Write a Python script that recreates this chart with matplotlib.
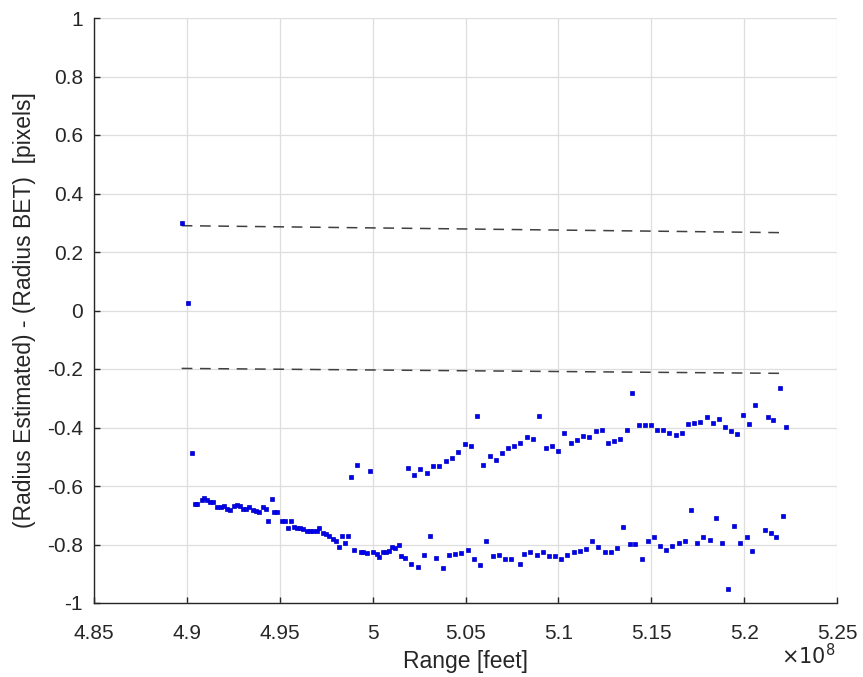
import matplotlib
matplotlib.use("Agg")
import matplotlib.pyplot as plt

plt.rcParams['font.family'] = ['Liberation Sans', 'DejaVu Sans']

# range in units of 1e8 feet, error in pixels
range_start = [4.8972, 4.9008, 4.9026]
err_start = [0.299, 0.026, -0.488]

range_lower = [4.9044, 4.9056, 4.9080, 4.9094, 4.9110, 4.9124, 4.9142, 4.9164, 4.9182, 4.9200,
               4.9214, 4.9232, 4.9254, 4.9268, 4.9286, 4.9300, 4.9318, 4.9336, 4.9354, 4.9372,
               4.9390, 4.9408, 4.9426, 4.9438, 4.9456, 4.9470, 4.9487, 4.9510, 4.9528, 4.9543,
               4.9560, 4.9576, 4.9594, 4.9609, 4.9626, 4.9645, 4.9663, 4.9680, 4.9699, 4.9713,
               4.9731, 4.9749, 4.9766, 4.9785, 4.9801, 4.9817, 4.9833, 4.9851, 4.9869, 4.9901,
               4.9935, 4.9949, 4.9971, 5.0003, 5.0022, 5.0036, 5.0054, 5.0072, 5.0089, 5.0105,
               5.0120, 5.0142, 5.0152, 5.0174, 5.0206, 5.0242, 5.0274, 5.0308, 5.0342, 5.0377,
               5.0409, 5.0443, 5.0477, 5.0511, 5.0545, 5.0579, 5.0611, 5.0646, 5.0680, 5.0712,
               5.0746, 5.0793, 5.0814, 5.0847, 5.0883, 5.0915, 5.0949, 5.0981, 5.1015, 5.1049,
               5.1082, 5.1116, 5.1150, 5.1182, 5.1216, 5.1249, 5.1283, 5.1316, 5.1349, 5.1383,
               5.1415, 5.1449, 5.1483, 5.1516, 5.1546, 5.1580, 5.1612, 5.1647, 5.1681, 5.1713,
               5.1747, 5.1779, 5.1814, 5.1846, 5.1880, 5.1912, 5.1946, 5.1978, 5.2013, 5.2045,
               5.2110, 5.2142, 5.2174, 5.2208]
err_lower = [-0.662, -0.662, -0.647, -0.642, -0.648, -0.654, -0.656, -0.671, -0.673, -0.670,
             -0.677, -0.683, -0.668, -0.665, -0.668, -0.677, -0.679, -0.673, -0.683, -0.687,
             -0.690, -0.673, -0.679, -0.719, -0.643, -0.688, -0.688, -0.719, -0.719, -0.745,
             -0.721, -0.740, -0.742, -0.742, -0.747, -0.753, -0.755, -0.755, -0.755, -0.744,
             -0.762, -0.765, -0.770, -0.782, -0.787, -0.807, -0.772, -0.795, -0.772, -0.818,
             -0.824, -0.824, -0.829, -0.824, -0.833, -0.844, -0.827, -0.824, -0.822, -0.807,
             -0.812, -0.802, -0.841, -0.846, -0.867, -0.878, -0.836, -0.772, -0.846, -0.881,
             -0.836, -0.833, -0.829, -0.819, -0.850, -0.869, -0.789, -0.839, -0.835, -0.850,
             -0.850, -0.867, -0.833, -0.825, -0.836, -0.827, -0.839, -0.839, -0.850, -0.835,
             -0.825, -0.822, -0.816, -0.787, -0.810, -0.825, -0.827, -0.812, -0.740, -0.799,
             -0.799, -0.850, -0.789, -0.774, -0.804, -0.819, -0.804, -0.795, -0.789, -0.683,
             -0.796, -0.776, -0.784, -0.708, -0.795, -0.952, -0.738, -0.795, -0.776, -0.822,
             -0.750, -0.762, -0.776, -0.702]

range_upper = [4.9883, 4.9917, 4.9985, 5.0188, 5.0224, 5.0256, 5.0291, 5.0324, 5.0358, 5.0393,
               5.0427, 5.0461, 5.0495, 5.0527, 5.0560, 5.0595, 5.0630, 5.0662, 5.0696, 5.0730,
               5.0762, 5.0793, 5.0829, 5.0864, 5.0897, 5.0931, 5.0965, 5.0999, 5.1031, 5.1066,
               5.1100, 5.1133, 5.1166, 5.1200, 5.1234, 5.1266, 5.1300, 5.1333, 5.1367, 5.1399,
               5.1433, 5.1466, 5.1499, 5.1532, 5.1564, 5.1596, 5.1631, 5.1663, 5.1697, 5.1729,
               5.1763, 5.1798, 5.1830, 5.1864, 5.1896, 5.1928, 5.1962, 5.1995, 5.2027, 5.2061,
               5.2126, 5.2158, 5.2192, 5.2224]
err_upper = [-0.569, -0.528, -0.548, -0.537, -0.562, -0.543, -0.554, -0.533, -0.533, -0.516,
             -0.505, -0.484, -0.455, -0.463, -0.361, -0.528, -0.497, -0.511, -0.488, -0.469,
             -0.463, -0.454, -0.434, -0.440, -0.361, -0.469, -0.463, -0.480, -0.420, -0.454,
             -0.444, -0.429, -0.434, -0.412, -0.409, -0.454, -0.446, -0.438, -0.410, -0.283,
             -0.392, -0.390, -0.390, -0.410, -0.410, -0.420, -0.427, -0.420, -0.387, -0.383,
             -0.381, -0.363, -0.383, -0.372, -0.398, -0.412, -0.421, -0.357, -0.389, -0.324,
             -0.365, -0.375, -0.265, -0.397]

# bound lines
bound_range = [4.8972, 5.2224]
bound_hi = [0.290, 0.266]
bound_lo = [-0.198, -0.215]

fig = plt.figure(figsize=(8.63, 6.77), dpi=100)
ax = fig.add_axes([94/863, 1-603/677, (837-94)/863, (603-18)/677])

ax.plot(bound_range, bound_hi, color='#404040', lw=1.1, dashes=(7, 5))
ax.plot(bound_range, bound_lo, color='#404040', lw=1.1, dashes=(7, 5))

for xs, ys in [(range_start, err_start), (range_lower, err_lower), (range_upper, err_upper)]:
  ax.plot(xs, ys, 's', color='#0000f0', markersize=3.2, markeredgewidth=0.5, markeredgecolor='#0000c0')

ax.set_xlim(4.85, 5.25)
ax.set_ylim(-1, 1)
ax.set_xticks([4.85, 4.9, 4.95, 5.0, 5.05, 5.1, 5.15, 5.2, 5.25])
ax.set_xticklabels(['4.85', '4.9', '4.95', '5', '5.05', '5.1', '5.15', '5.2', '5.25'])
ax.set_yticks([-1, -0.8, -0.6, -0.4, -0.2, 0, 0.2, 0.4, 0.6, 0.8, 1])
ax.set_yticklabels(['-1', '-0.8', '-0.6', '-0.4', '-0.2', '0', '0.2', '0.4', '0.6', '0.8', '1'])

ax.grid(True, color='#dedede', lw=0.9)
ax.set_axisbelow(True)
for s in ['top', 'right']:
  ax.spines[s].set_visible(False)
for s in ['left', 'bottom']:
  ax.spines[s].set_color('#262626')
  ax.spines[s].set_linewidth(1.0)

ax.tick_params(axis='x', direction='in', length=4, width=1, color='#262626', labelcolor='#262626', labelsize=15, pad=15)
ax.tick_params(axis='y', direction='in', length=4, width=1, color='#262626', labelcolor='#262626', labelsize=15, pad=8)

ax.set_xlabel('Range [feet]', fontsize=16.5, color='#262626', labelpad=5)
ax.set_ylabel('(Radius Estimated) - (Radius BET)  [pixels]', fontsize=16.5, color='#262626', labelpad=8)
fig.text(836/863, 1-656/677, r'$\times10^{8}$', fontsize=15, color='#262626', ha='right', va='center')

fig.savefig('out.png', dpi=100)
